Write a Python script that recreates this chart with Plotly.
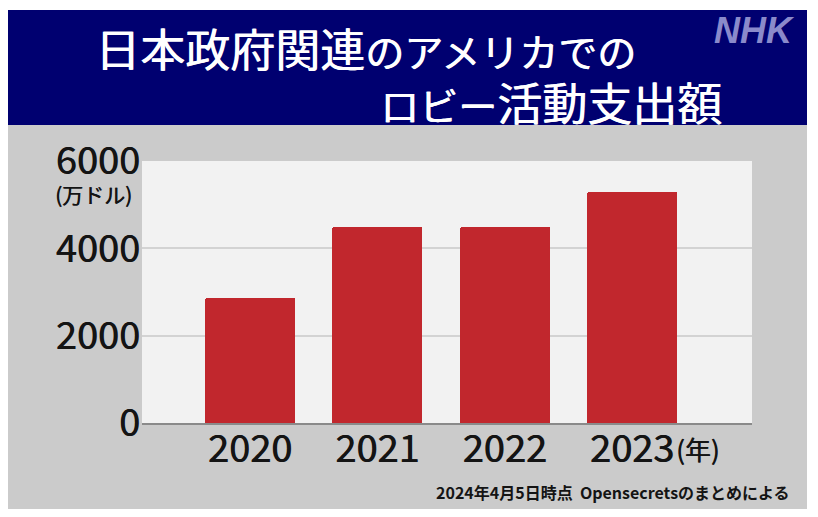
import plotly.graph_objects as go

# ---- data ----
years = ["2020", "2021", "2022", "2023"]
spending = [2860, 4490, 4490, 5300]   # 万ドル
y_ticks = [0, 2000, 4000, 6000]
y_tick_labels = ["0", "2000", "4000", "6000"]

title_kanji1 = "日本政府関連"
title_kana1 = "のアメリカでの"
title_kana2 = "ロビー"
title_kanji2 = "活動支出額"
unit_label = "(万ドル)"
year_suffix = "(年)"
source_note = "2024年4月5日時点  Opensecretsのまとめによる"
logo_text = "NHK"

# ---- layout geometry (page pixels; page body has an 8px margin) ----
OFF = 8
W, H = 802, 501           # figure size -> occupies page 8..810, 8..509
L, R, T, B = 142, 752, 161, 423   # plot area in page pixels
FONT = "Noto Sans CJK JP"
DARK = "#141414"
SH_DARK = "0.7px 0 0 #141414"
SH_WHITE = "0.8px 0 0 #ffffff"


def px(x):
    return (x - L) / (R - L)


def py(y):
    return (B - y) / (B - T)


fig = go.Figure()
fig.add_trace(go.Bar(
    x=years, y=spending,
    width=0.707,
    marker=dict(color="#c1272d", line=dict(width=0), cornerradius=2),
    hoverinfo="x+y",
))

shapes = [
    # navy title band
    dict(type="rect", xref="paper", yref="paper", layer="below",
         x0=px(7), x1=px(807), y0=py(10), y1=py(125),
         fillcolor="#000070", line=dict(width=0)),
    # gray chart panel
    dict(type="rect", xref="paper", yref="paper", layer="below",
         x0=px(7), x1=px(807), y0=py(125), y1=py(509),
         fillcolor="#cbcbcb", line=dict(width=0)),
    # light plot background
    dict(type="rect", xref="paper", yref="paper", layer="below",
         x0=0, x1=1, y0=0, y1=1,
         fillcolor="#f2f2f2", line=dict(width=0)),
]

KS, KN = 45, 39
line1 = (f"<span style='font-size:{KS}px'>{title_kanji1}</span>"
         f"<span style='font-size:{KN}px'>{title_kana1}</span>")
line2 = (f"<span style='font-size:{KN}px'>{title_kana2}</span>"
         f"<span style='font-size:{KS}px'>{title_kanji2}</span>")

annotations = [
    dict(text=line1, xref="paper", yref="paper", x=px(93), y=py(47),
         xanchor="left", yanchor="middle", showarrow=False,
         font=dict(family=FONT, size=KS, color="white", shadow=SH_WHITE)),
    dict(text=line2, xref="paper", yref="paper", x=px(724), y=py(101),
         xanchor="right", yanchor="middle", showarrow=False,
         font=dict(family=FONT, size=KS, color="white", shadow=SH_WHITE)),
    dict(text="<i><b>" + logo_text + "</b></i>", xref="paper", yref="paper",
         x=px(797), y=py(30), xanchor="right", yanchor="middle", showarrow=False,
         font=dict(family="Liberation Sans", size=36, color="#8a8acb")),
    dict(text=unit_label, xref="paper", yref="paper", x=px(134), y=py(194),
         xanchor="right", yanchor="middle", showarrow=False,
         font=dict(family=FONT, size=21, color=DARK, shadow="0.5px 0 0 #141414")),
    dict(text=year_suffix, xref="paper", yref="paper", x=px(674), y=py(448),
         xanchor="left", yanchor="middle", showarrow=False,
         font=dict(family=FONT, size=26, color=DARK, shadow="0.5px 0 0 #141414")),
    dict(text=source_note, xref="paper", yref="paper", x=px(792), y=py(492),
         xanchor="right", yanchor="middle", showarrow=False,
         font=dict(family=FONT, size=16, color=DARK, weight=700)),
]

fig.update_layout(
    width=W, height=H,
    margin=dict(l=L - OFF, r=(W + OFF) - R, t=T - OFF, b=(H + OFF) - B, pad=0),
    paper_bgcolor="white",
    plot_bgcolor="rgba(0,0,0,0)",
    showlegend=False,
    shapes=shapes,
    annotations=annotations,
    bargap=0,
    xaxis=dict(
        type="category", range=[-0.848, 3.942],
        showgrid=False, showline=True, linecolor="#8a8a8a", linewidth=2,
        ticks="", tickfont=dict(family=FONT, size=38, color=DARK, shadow=SH_DARK),
        ticklabelstandoff=-9, fixedrange=True,
    ),
    yaxis=dict(
        range=[0, 6000], tickvals=y_ticks, ticktext=y_tick_labels,
        showgrid=True, gridcolor="#d3d3d3", gridwidth=2,
        zeroline=False, showline=False, ticks="",
        tickfont=dict(family=FONT, size=38, color=DARK, shadow=SH_DARK),
        ticklabelstandoff=1, fixedrange=True,
    ),
)

fig.write_html("out.html")
